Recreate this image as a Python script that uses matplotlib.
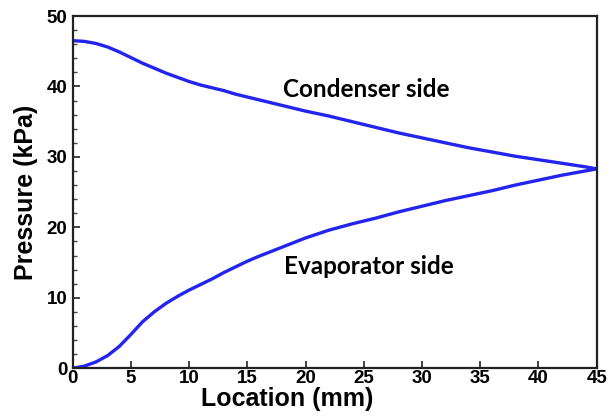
import matplotlib.pyplot as plt
from matplotlib.ticker import MultipleLocator

# Pressure along the channel (kPa) vs location (mm)
cond_x = [0, 1, 2, 3, 4, 5, 6, 7, 8, 9, 10, 11, 12, 13, 14, 15, 16, 18, 20,
          22, 24, 26, 28, 30, 32, 34, 36, 38, 40, 42, 44, 45]
cond_p = [46.5, 46.4, 46.1, 45.6, 44.9, 44.1, 43.3, 42.6, 41.9, 41.3, 40.7,
          40.2, 39.8, 39.4, 38.9, 38.5, 38.1, 37.3, 36.5, 35.8, 35.0, 34.2,
          33.4, 32.7, 32.0, 31.3, 30.7, 30.1, 29.6, 29.1, 28.6, 28.3]

evap_x = [0, 1, 2, 3, 4, 5, 6, 7, 8, 9, 10, 11, 12, 13, 14, 15, 16, 18, 20,
          22, 24, 26, 28, 30, 32, 34, 36, 38, 40, 42, 44, 45]
evap_p = [0, 0.3, 0.9, 1.8, 3.1, 4.8, 6.6, 8.0, 9.2, 10.2, 11.1, 11.9, 12.7,
          13.6, 14.4, 15.2, 15.9, 17.2, 18.5, 19.6, 20.5, 21.3, 22.2, 23.0,
          23.8, 24.5, 25.2, 26.0, 26.7, 27.4, 28.0, 28.3]

x_ticks = list(range(0, 50, 5))
y_ticks = list(range(0, 60, 10))

fig = plt.figure(figsize=(6.14, 4.18), dpi=100)
ax = fig.add_axes([0.1184, 0.119, 0.8534, 0.8427])

line_col = "#2424f0"
ax.plot(cond_x, cond_p, color=line_col, lw=2.4, solid_capstyle="round")
ax.plot(evap_x, evap_p, color=line_col, lw=2.4, solid_capstyle="round")

ax.set_xlim(0, 45)
ax.set_ylim(0, 50)
ax.set_xticks(x_ticks)
ax.set_yticks(y_ticks)
ax.yaxis.set_minor_locator(MultipleLocator(2))

tick_font = ["Liberation Sans", "DejaVu Sans"]
for lab in ax.get_xticklabels() + ax.get_yticklabels():
    lab.set_family(tick_font)
    lab.set_fontweight("bold")
    lab.set_fontsize(13.5)

ax.tick_params(axis="both", which="major", direction="in", length=5,
               width=1.2, colors="#222222", labelcolor="black")
ax.tick_params(axis="y", which="minor", direction="in", length=3,
               width=1.0, colors="#444444")
ax.tick_params(axis="x", pad=1)
ax.tick_params(axis="y", pad=4)

for s in ax.spines.values():
    s.set_linewidth(1.6)
    s.set_color("#222222")

ax.set_xlabel("Location (mm)", family=tick_font, fontweight="bold",
              fontsize=18)
ax.xaxis.set_label_coords(0.41, -0.052)
ax.set_ylabel("Pressure (kPa)", family=tick_font, fontweight="bold",
              fontsize=18, labelpad=6)

# Side annotations
ax.text(25.2, 39.6, "Condenser side", ha="center", va="center",
        family=["Lato", "DejaVu Sans"], fontweight="bold", fontsize=17.5)
ax.text(25.4, 14.4, "Evaporator side", ha="center", va="center",
        family=["Lato", "DejaVu Sans"], fontweight="bold", fontsize=17.5)

fig.text(0.595, 1.022, "(a)", ha="center", va="center",
         family=tick_font, fontweight="bold", fontsize=15)

fig.savefig("out.png", dpi=100)
